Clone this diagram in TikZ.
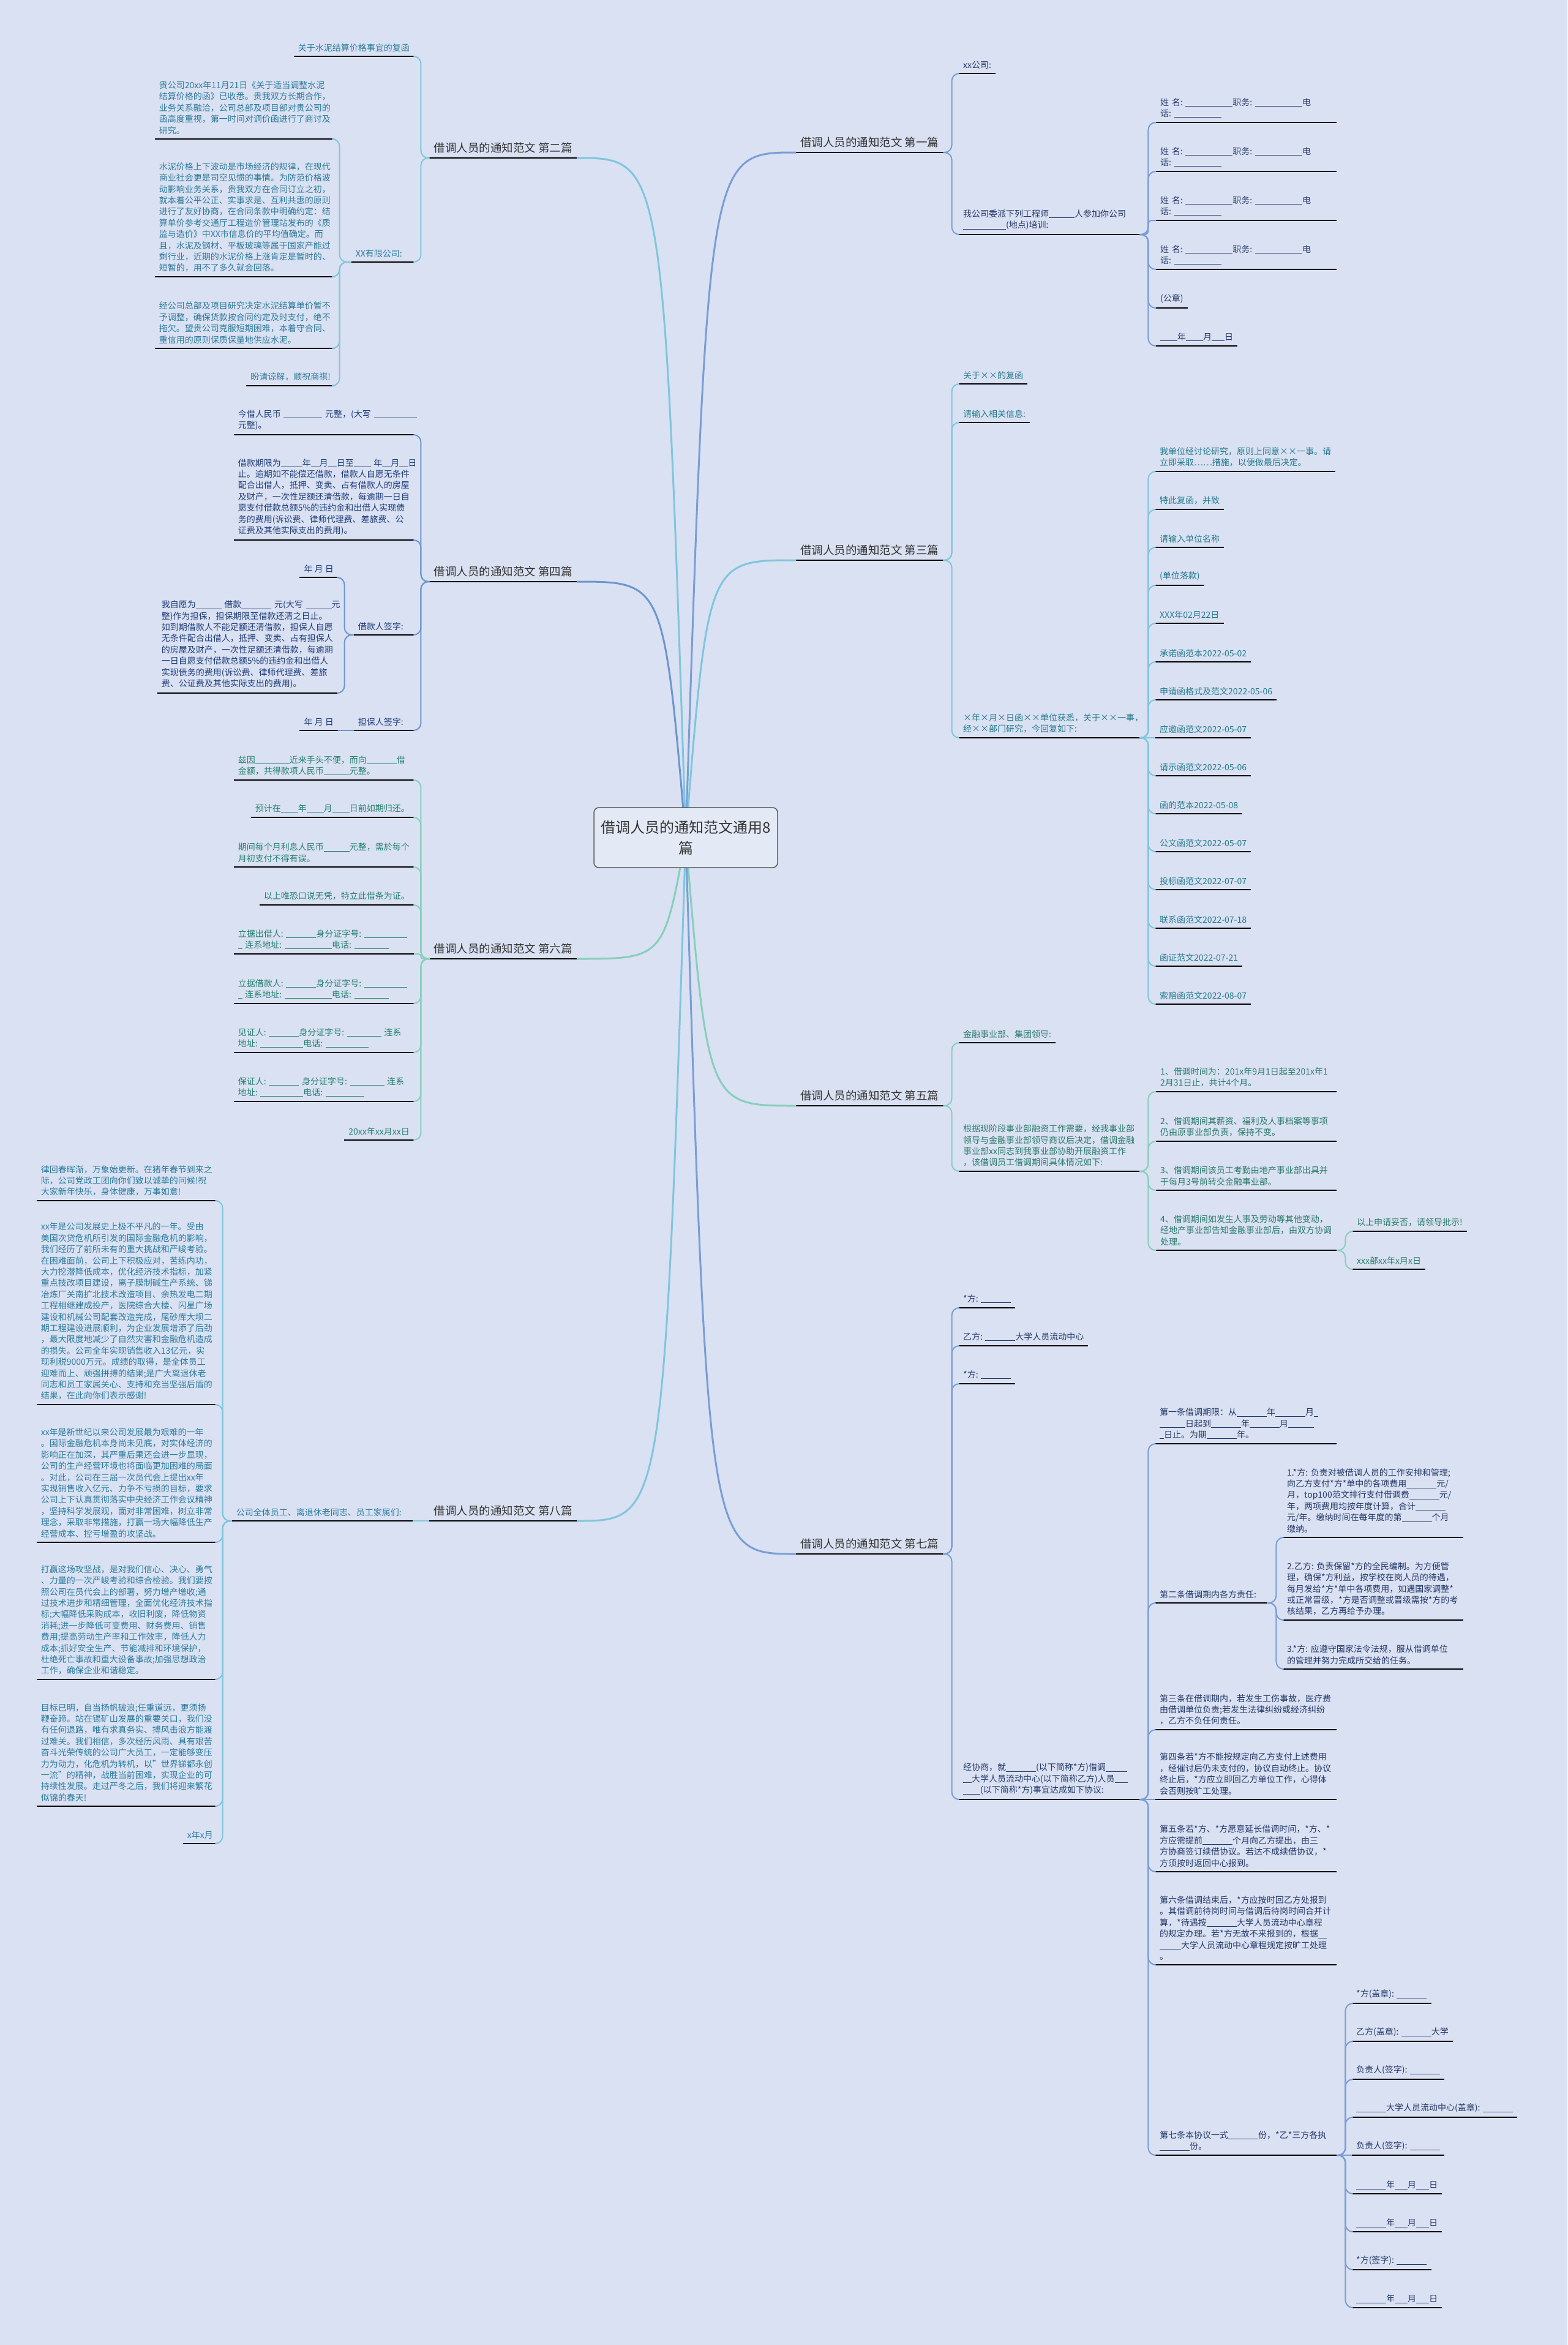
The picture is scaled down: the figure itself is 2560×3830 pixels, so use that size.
\documentclass[tikz,border=0pt]{standalone}
\usepackage{fontspec}
\setmainfont{Noto Sans CJK SC}
\definecolor{bgc}{RGB}{218,225,242}
\definecolor{rootfill}{RGB}{228,233,246}
\definecolor{rootdraw}{RGB}{90,90,90}
\definecolor{k1}{RGB}{122,157,214}
\definecolor{k2}{RGB}{128,198,220}
\definecolor{k3}{RGB}{128,198,220}
\definecolor{k4}{RGB}{108,150,206}
\definecolor{k5}{RGB}{134,207,188}
\definecolor{k6}{RGB}{134,207,188}
\definecolor{k7}{RGB}{122,157,214}
\definecolor{k8}{RGB}{128,198,220}
\definecolor{t1}{RGB}{36,55,104}
\definecolor{t2}{RGB}{42,122,154}
\definecolor{t3}{RGB}{34,122,140}
\definecolor{t4}{RGB}{30,60,120}
\definecolor{t5}{RGB}{40,122,104}
\definecolor{t6}{RGB}{36,128,110}
\definecolor{t7}{RGB}{34,56,104}
\definecolor{t8}{RGB}{42,124,158}
\definecolor{labc}{RGB}{51,51,51}
\tikzset{
  lf/.style={anchor=south west, inner xsep=7pt, inner ysep=7.5pt, align=left, font=\fontsize{14}{18.4}\selectfont},
  lfl/.style={lf, anchor=south east},
  lab/.style={anchor=south west, inner xsep=7pt, inner ysep=8pt, font=\fontsize{18.5}{22}\selectfont, text=labc},
  labl/.style={lab, anchor=south east},
  conn/.style={line width=2pt, rounded corners=12pt},
  mainc/.style={line width=3pt},
  uline/.style={line width=2.5pt, black},
  rootbox/.style={draw=rootdraw, fill=rootfill, line width=1.5pt, rounded corners=8pt, minimum width=300pt, minimum height=98pt, align=center, font=\fontsize{24}{34}\selectfont, text=labc},
}
\newcommand\rcn[4]{\draw[conn,#1] (#2.south east) -- ++(#4,0) |- (#3.south west);}
\newcommand\lcn[4]{\draw[conn,#1] (#2.south west) -- ++(-#4,0) |- (#3.south east);}
\newcommand\ubar{\rule[-0.13em]{0.5em}{0.06em}}
\catcode`\_=\active
\def_{\ubar}
\begin{document}
\begin{tikzpicture}[x=1pt,y=-1pt]
\fill[bgc] (0,0) rectangle (2560,3830);
\useasboundingbox (0,0) rectangle (2560,3830);
\coordinate (rc) at (1120,1368);

% ---------------- labels
\node[lab] (R1) at (1300,249) {借调人员的通知范文 第一篇};
\node[lab] (R3) at (1300,915) {借调人员的通知范文 第三篇};
\node[lab] (R5) at (1300,1806) {借调人员的通知范文 第五篇};
\node[lab] (R7) at (1300,2538) {借调人员的通知范文 第七篇};
\node[labl] (L2) at (942,258) {借调人员的通知范文 第二篇};
\node[labl] (L4) at (942,950) {借调人员的通知范文 第四篇};
\node[labl] (L6) at (942,1566) {借调人员的通知范文 第六篇};
\node[labl] (L8) at (942,2484) {借调人员的通知范文 第八篇};

% ---------------- L2
\node[lfl,text=t2] (n2a) at (676,92) {关于水泥结算价格事宜的复函};
\node[lfl,text=t2,text width=88pt] (n2b) at (676,428) {XX有限公司:};
\node[lfl,text=t2,text width=280pt] (n2b1) at (547,227) {贵公司20xx年11月21日《关于适当调整水泥\\结算价格的函》已收悉。贵我双方长期合作，\\业务关系融洽，公司总部及项目部对贵公司的\\函高度重视，第一时间对调价函进行了商讨及\\研究。};
\node[lfl,text=t2,text width=280pt] (n2b2) at (547,452) {水泥价格上下波动是市场经济的规律，在现代\\商业社会更是司空见惯的事情。为防范价格波\\动影响业务关系，贵我双方在合同订立之初，\\就本着公平公正、实事求是、互利共惠的原则\\进行了友好协商，在合同条款中明确约定：结\\算单价参考交通厅工程造价管理站发布的《质\\监与造价》中XX市信息价的平均值确定。而\\且，水泥及钢材、平板玻璃等属于国家产能过\\剩行业，近期的水泥价格上涨肯定是暂时的、\\短暂的，用不了多久就会回落。};
\node[lfl,text=t2,text width=280pt] (n2b3) at (547,569) {经公司总部及项目研究决定水泥结算单价暂不\\予调整，确保货款按合同约定及时支付，绝不\\拖欠。望贵公司克服短期困难，本着守合同、\\重信用的原则保质保量地供应水泥。};
\node[lfl,text=t2] (n2b4) at (547,630) {盼请谅解，顺祝商祺!};

% ---------------- L4
\node[lfl,text=t4,text width=280pt] (n4a) at (676,710) {今借人民币~_________~元整，(大写~__________\\元整)。};
\node[lfl,text=t4,text width=280pt] (n4b) at (676,882) {借款期限为_____年__月__日至____~年__月__日\\止。逾期如不能偿还借款，借款人自愿无条件\\配合出借人，抵押、变卖、占有借款人的房屋\\及财产，一次性足额还清借款，每逾期一日自\\愿支付借款总额5\%的违约金和出借人实现债\\务的费用(诉讼费、律师代理费、差旅费、公\\证费及其他实际支出的费用)。};
\node[lfl,text=t4,text width=84pt] (n4c) at (676,1037) {借款人签字:};
\node[lfl,text=t4] (n4c1) at (552,943) {年 月 日};
\node[lfl,text=t4,text width=281pt] (n4c2) at (552,1132) {我自愿为______~借款_______~元(大写~______元\\整)作为担保，担保期限至借款还清之日止。\\如到期借款人不能足额还清借款，担保人自愿\\无条件配合出借人，抵押、变卖、占有担保人\\的房屋及财产，一次性足额还清借款，每逾期\\一日自愿支付借款总额5\%的违约金和出借人\\实现债务的费用(诉讼费、律师代理费、差旅\\费、公证费及其他实际支出的费用)。};
\node[lfl,text=t4,text width=84pt] (n4d) at (676,1193) {担保人签字:};
\node[lfl,text=t4] (n4d1) at (552,1193) {年 月 日};

% ---------------- L6
\node[lfl,text=t6,text width=280pt] (n6a) at (676,1274) {兹因________近来手头不便，而向_______借\\金额，共得款项人民币______元整。};
\node[lfl,text=t6] (n6b) at (676,1335) {预计在____年____月____日前如期归还。};
\node[lfl,text=t6,text width=280pt] (n6c) at (676,1416) {期间每个月利息人民币______元整，需於每个\\月初支付不得有误。};
\node[lfl,text=t6] (n6d) at (676,1478) {以上唯恐口说无凭，特立此借条为证。};
\node[lfl,text=t6,text width=280pt] (n6e) at (676,1558) {立据出借人:~_______身分证字号:~__________\\_~连系地址:~___________电话:~________};
\node[lfl,text=t6,text width=280pt] (n6f) at (676,1639) {立据借款人:~_______身分证字号:~__________\\_~连系地址:~___________电话:~________};
\node[lfl,text=t6,text width=280pt] (n6g) at (676,1719) {见证人:~_______身分证字号:~________~连系\\地址:~__________电话:~__________};
\node[lfl,text=t6,text width=280pt] (n6h) at (676,1799) {保证人:~_______~身分证字号:~________~连系\\地址:~__________电话:~_________};
\node[lfl,text=t6] (n6i) at (676,1862) {20xx年xx月xx日};

% ---------------- L8
\node[lfl,text=t8,text width=281pt] (n8) at (674,2484) {公司全体员工、离退休老同志、员工家属们:};
\node[lfl,text=t8,text width=281pt] (n8a) at (355,1961) {律回春晖渐，万象始更新。在猪年春节到来之\\际，公司党政工团向你们致以诚挚的问候!祝\\大家新年快乐，身体健康，万事如意!};
\node[lfl,text=t8,text width=281pt] (n8b) at (355,2294) {xx年是公司发展史上极不平凡的一年。受由\\美国次贷危机所引发的国际金融危机的影响，\\我们经历了前所未有的重大挑战和严峻考验。\\在困难面前，公司上下积极应对，苦练内功，\\大力挖潜降低成本，优化经济技术指标，加紧\\重点技改项目建设，离子膜制碱生产系统、锑\\冶炼厂关南扩北技术改造项目、余热发电二期\\工程相继建成投产，医院综合大楼、闪星广场\\建设和机械公司配套改造完成，尾砂库大坝二\\期工程建设进展顺利，为企业发展增添了后劲\\，最大限度地减少了自然灾害和金融危机造成\\的损失。公司全年实现销售收入13亿元，实\\现利税9000万元。成绩的取得，是全体员工\\迎难而上、顽强拼搏的结果;是广大离退休老\\同志和员工家属关心、支持和充当坚强后盾的\\结果，在此向你们表示感谢!};
\node[lfl,text=t8,text width=281pt] (n8c) at (355,2519) {xx年是新世纪以来公司发展最为艰难的一年\\。国际金融危机本身尚未见底，对实体经济的\\影响正在加深，其严重后果还会进一步显现，\\公司的生产经营环境也将面临更加困难的局面\\。对此，公司在三届一次员代会上提出xx年\\实现销售收入亿元、力争不亏损的目标，要求\\公司上下认真贯彻落实中央经济工作会议精神\\，坚持科学发展观，面对非常困难，树立非常\\理念，采取非常措施，打赢一场大幅降低生产\\经营成本、控亏增盈的攻坚战。};
\node[lfl,text=t8,text width=281pt] (n8d) at (355,2743) {打赢这场攻坚战，是对我们信心、决心、勇气\\、力量的一次严峻考验和综合检验。我们要按\\照公司在员代会上的部署，努力增产增收;通\\过技术进步和精细管理，全面优化经济技术指\\标;大幅降低采购成本，收旧利废，降低物资\\消耗;进一步降低可变费用、财务费用、销售\\费用;提高劳动生产率和工作效率，降低人力\\成本;抓好安全生产、节能减排和环境保护，\\杜绝死亡事故和重大设备事故;加强思想政治\\工作，确保企业和谐稳定。};
\node[lfl,text=t8,text width=281pt] (n8e) at (355,2950) {目标已明，自当扬帆破浪;任重道远，更须扬\\鞭奋蹄。站在锡矿山发展的重要关口，我们没\\有任何退路，唯有求真务实、搏风击浪方能渡\\过难关。我们相信，多次经历风雨、具有艰苦\\奋斗光荣传统的公司广大员工，一定能够变压\\力为动力，化危机为转机，以"世界锑都永创\\一流"的精神，战胜当前困难，实现企业的可\\持续性发展。走过严冬之后，我们将迎来繁花\\似锦的春天!};
\node[lfl,text=t8] (n8f) at (355,3011) {x年x月};

% ---------------- R1
\node[lf,text=t1] (r1a) at (1566,120) {xx公司:};
\node[lf,text=t1,text width=281pt] (r1b) at (1566,383) {我公司委派下列工程师______人参加你公司\\__________(地点)培训:};
\node[lf,text=t1,text width=281pt] (r1b1) at (1888,200) {姓~名:~___________职务:~___________电\\话:~___________};
\node[lf,text=t1,text width=281pt] (r1b2) at (1888,280) {姓~名:~___________职务:~___________电\\话:~___________};
\node[lf,text=t1,text width=281pt] (r1b3) at (1888,360) {姓~名:~___________职务:~___________电\\话:~___________};
\node[lf,text=t1,text width=281pt] (r1b4) at (1888,440) {姓~名:~___________职务:~___________电\\话:~___________};
\node[lf,text=t1] (r1b5) at (1888,503) {(公章)};
\node[lf,text=t1] (r1b6) at (1888,565) {____年____月___日};

% ---------------- R3
\node[lf,text=t3] (r3a) at (1566,627) {关于××的复函};
\node[lf,text=t3] (r3b) at (1566,690) {请输入相关信息:};
\node[lf,text=t3,text width=281pt] (r3c) at (1566,1205) {×年×月×日函××单位获悉，关于××一事，\\经××部门研究，今回复如下:};
\node[lf,text=t3,text width=280pt] (r3c1) at (1887,770) {我单位经讨论研究，原则上同意××一事。请\\立即采取……措施，以便做最后决定。};
\node[lf,text=t3] (r3c2) at (1887,832) {特此复函，并致};
\node[lf,text=t3] (r3c3) at (1887,894) {请输入单位名称};
\node[lf,text=t3] (r3c4) at (1887,956) {(单位落款)};
\node[lf,text=t3] (r3c5) at (1887,1018) {XXX年02月22日};
\node[lf,text=t3] (r3c6) at (1887,1081) {承诺函范本2022-05-02};
\node[lf,text=t3] (r3c7) at (1887,1143) {申请函格式及范文2022-05-06};
\node[lf,text=t3] (r3c8) at (1887,1205) {应邀函范文2022-05-07};
\node[lf,text=t3] (r3c9) at (1887,1267) {请示函范文2022-05-06};
\node[lf,text=t3] (r3c10) at (1887,1329) {函的范本2022-05-08};
\node[lf,text=t3] (r3c11) at (1887,1391) {公文函范文2022-05-07};
\node[lf,text=t3] (r3c12) at (1887,1453) {投标函范文2022-07-07};
\node[lf,text=t3] (r3c13) at (1887,1516) {联系函范文2022-07-18};
\node[lf,text=t3] (r3c14) at (1887,1578) {函证范文2022-07-21};
\node[lf,text=t3] (r3c15) at (1887,1640) {索赔函范文2022-08-07};

% ---------------- R5
\node[lf,text=t5] (r5a) at (1566,1703) {金融事业部、集团领导:};
\node[lf,text=t5,text width=281pt] (r5b) at (1566,1913) {根据现阶段事业部融资工作需要，经我事业部\\领导与金融事业部领导商议后决定，借调金融\\事业部xx同志到我事业部协助开展融资工作\\，该借调员工借调期间具体情况如下:};
\node[lf,text=t5,text width=281pt] (r5b1) at (1888,1783) {1、借调时间为：201x年9月1日起至201x年1\\2月31日止，共计4个月。};
\node[lf,text=t5,text width=281pt] (r5b2) at (1888,1864) {2、借调期间其薪资、福利及人事档案等事项\\仍由原事业部负责，保持不变。};
\node[lf,text=t5,text width=281pt] (r5b3) at (1888,1944) {3、借调期间该员工考勤由地产事业部出具并\\于每月3号前转交金融事业部。};
\node[lf,text=t5,text width=281pt] (r5b4) at (1888,2042) {4、借调期间如发生人事及劳动等其他变动，\\经地产事业部告知金融事业部后，由双方协调\\处理。};
\node[lf,text=t5] (r5b4a) at (2209,2011) {以上申请妥否，请领导批示!};
\node[lf,text=t5] (r5b4b) at (2209,2073) {xxx部xx年x月x日};

% ---------------- R7
\node[lf,text=t7] (r7a) at (1566,2136) {*方: _______};
\node[lf,text=t7] (r7b) at (1566,2198) {乙方: _______大学人员流动中心};
\node[lf,text=t7] (r7c) at (1566,2260) {*方: _______};
\node[lf,text=t7,text width=281pt] (r7d) at (1566,2939) {经协商，就_______(以下简称*方)借调_____\\__大学人员流动中心(以下简称乙方)人员___\\____(以下简称*方)事宜达成如下协议:};
\node[lf,text=t7,text width=282pt] (r7d1) at (1887,2358) {第一条借调期限：从_______年_______月_\\______日起到_______年_______月______\\_日止。为期_______年。};
\node[lf,text=t7,text width=168pt] (r7d2) at (1887,2618) {第二条借调期内各方责任:};
\node[lf,text=t7,text width=281pt] (r7d2a) at (2095,2511) {1.*方:~负责对被借调人员的工作安排和管理;\\向乙方支付*方*单中的各项费用_______元/\\月，top100范文排行支付借调费_______元/\\年，两项费用均按年度计算，合计_______\\元/年。缴纳时间在每年度的第_______个月\\缴纳。};
\node[lf,text=t7,text width=281pt] (r7d2b) at (2095,2646) {2.乙方:~负责保留*方的全民编制。为方便管\\理，确保*方利益，按学校在岗人员的待遇，\\每月发给*方*单中各项费用，如遇国家调整*\\或正常晋级，*方是否调整或晋级需按*方的考\\核结果，乙方再给予办理。};
\node[lf,text=t7,text width=281pt] (r7d2c) at (2095,2726) {3.*方:~应遵守国家法令法规，服从借调单位\\的管理并努力完成所交给的任务。};
\node[lf,text=t7,text width=282pt] (r7d3) at (1887,2825) {第三条在借调期内，若发生工伤事故，医疗费\\由借调单位负责;若发生法律纠纷或经济纠纷\\，乙方不负任何责任。};
\node[lf,text=t7,text width=282pt] (r7d4) at (1887,2939) {第四条若*方不能按规定向乙方支付上述费用\\，经催讨后仍未支付的，协议自动终止。协议\\终止后，*方应立即回乙方单位工作，心得体\\会否则按旷工处理。};
\node[lf,text=t7,text width=282pt] (r7d5) at (1887,3057) {第五条若*方、*方愿意延长借调时间，*方、*\\方应需提前_______个月向乙方提出，由三\\方协商签订续借协议。若达不成续借协议，*\\方须按时返回中心报到。};
\node[lf,text=t7,text width=282pt] (r7d6) at (1887,3209) {第六条借调结束后，*方应按时回乙方处报到\\。其借调前待岗时间与借调后待岗时间合并计\\算，*待遇按_______大学人员流动中心章程\\的规定办理。若*方无故不来报到的，根据__\\_____大学人员流动中心章程规定按旷工处理\\。};
\node[lf,text=t7,text width=282pt] (r7d7) at (1887,3520) {第七条本协议一式_______份，*乙*三方各执\\_______份。};
\node[lf,text=t7] (r7d7a) at (2208,3272) {*方(盖章): _______};
\node[lf,text=t7] (r7d7b) at (2208,3334) {乙方(盖章): _______大学};
\node[lf,text=t7] (r7d7c) at (2208,3396) {负责人(签字): _______};
\node[lf,text=t7] (r7d7d) at (2208,3458) {_______大学人员流动中心(盖章): _______};
\node[lf,text=t7] (r7d7e) at (2208,3520) {负责人(签字): _______};
\node[lf,text=t7] (r7d7f) at (2208,3583) {_______年___月___日};
\node[lf,text=t7] (r7d7g) at (2208,3645) {_______年___月___日};
\node[lf,text=t7] (r7d7h) at (2208,3707) {*方(签字): _______};
\node[lf,text=t7] (r7d7i) at (2208,3769) {_______年___月___日};

% ---------------- underlines
\foreach \n in {R1,R3,R5,R7,L2,L4,L6,L8,
  n2a,n2b,n2b1,n2b2,n2b3,n2b4,n4a,n4b,n4c,n4c1,n4c2,n4d,n4d1,
  n6a,n6b,n6c,n6d,n6e,n6f,n6g,n6h,n6i,n8,n8a,n8b,n8c,n8d,n8e,n8f,
  r1a,r1b,r1b1,r1b2,r1b3,r1b4,r1b5,r1b6,r3a,r3b,r3c,
  r3c1,r3c2,r3c3,r3c4,r3c5,r3c6,r3c7,r3c8,r3c9,r3c10,r3c11,r3c12,r3c13,r3c14,r3c15,
  r5a,r5b,r5b1,r5b2,r5b3,r5b4,r5b4a,r5b4b,
  r7a,r7b,r7c,r7d,r7d1,r7d2,r7d2a,r7d2b,r7d2c,r7d3,r7d4,r7d5,r7d6,r7d7,
  r7d7a,r7d7b,r7d7c,r7d7d,r7d7e,r7d7f,r7d7g,r7d7h,r7d7i}
  {\draw[uline] (\n.south west) -- (\n.south east);}

% ---------------- connectors
% L2
\lcn{k2}{L2}{n2a}{14}
\lcn{k2}{L2}{n2b}{14}
\foreach \c in {n2b1,n2b2,n2b3,n2b4} {\lcn{k2}{n2b}{\c}{19}}
% L4
\foreach \c in {n4a,n4b,n4c,n4d} {\lcn{k4}{L4}{\c}{14}}
\lcn{k4}{n4c}{n4c1}{15}
\lcn{k4}{n4c}{n4c2}{15}
\draw[conn,k4] (n4d.south west) -- (n4d1.south east);
% L6
\foreach \c in {n6a,n6b,n6c,n6d,n6f,n6g,n6h,n6i} {\lcn{k6}{L6}{\c}{14}}
\lcn{k6,rounded corners=4pt}{L6}{n6e}{14}
% L8
\draw[conn,k8] (L8.south west) -- (n8.south east);
\foreach \c in {n8a,n8b,n8c,n8d,n8e,n8f} {\lcn{k8}{n8}{\c}{15}}
% R1
\rcn{k1}{R1}{r1a}{14}
\rcn{k1}{R1}{r1b}{14}
\foreach \c in {r1b1,r1b2,r1b4,r1b5,r1b6} {\rcn{k1}{r1b}{\c}{14}}
\rcn{k1,rounded corners=6pt}{r1b}{r1b3}{14}
% R3
\foreach \c in {r3a,r3b,r3c} {\rcn{k3}{R3}{\c}{14}}
\foreach \c in {r3c1,r3c2,r3c3,r3c4,r3c5,r3c6,r3c7,r3c9,r3c10,r3c11,r3c12,r3c13,r3c14,r3c15} {\rcn{k3}{r3c}{\c}{14}}
\draw[conn,k3] (r3c.south east) -- (r3c8.south west);
% R5
\rcn{k5}{R5}{r5a}{14}
\rcn{k5}{R5}{r5b}{14}
\foreach \c in {r5b1,r5b2,r5b3,r5b4} {\rcn{k5}{r5b}{\c}{14}}
\rcn{k5}{r5b4}{r5b4a}{14}
\rcn{k5}{r5b4}{r5b4b}{14}
% R7
\foreach \c in {r7a,r7b,r7c,r7d} {\rcn{k7}{R7}{\c}{14}}
\foreach \c in {r7d1,r7d2,r7d3,r7d5,r7d6,r7d7} {\rcn{k7}{r7d}{\c}{14}}
\draw[conn,k7] (r7d.south east) -- (r7d4.south west);
\foreach \c in {r7d2a,r7d2b,r7d2c} {\rcn{k7}{r7d2}{\c}{15}}
\foreach \c in {r7d7a,r7d7b,r7d7c,r7d7d,r7d7f,r7d7g,r7d7h,r7d7i} {\rcn{k7}{r7d7}{\c}{14}}
\draw[conn,k7] (r7d7.south east) -- (r7d7e.south west);

% ---------------- main curves
\draw[mainc,k1] (rc) .. controls (1156,249) .. (R1.south west);
\draw[mainc,k3] (rc) .. controls (1156,915) .. (R3.south west);
\draw[mainc,k5] (rc) .. controls (1156,1806) .. (R5.south west);
\draw[mainc,k7] (rc) .. controls (1156,2538) .. (R7.south west);
\draw[mainc,k2] (rc) .. controls (1084,258) .. (L2.south east);
\draw[mainc,k4] (rc) .. controls (1084,950) .. (L4.south east);
\draw[mainc,k6] (rc) .. controls (1084,1566) .. (L6.south east);
\draw[mainc,k8] (rc) .. controls (1084,2484) .. (L8.south east);

\node[rootbox] (root) at (rc) {借调人员的通知范文通用8\\篇};
\end{tikzpicture}
\end{document}
